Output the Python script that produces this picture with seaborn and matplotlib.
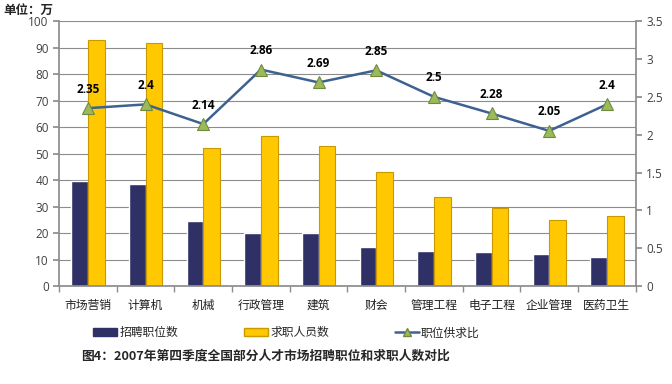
import numpy as np
import pandas as pd
import seaborn as sns
import matplotlib.pyplot as plt
from matplotlib.patches import Patch
from matplotlib.lines import Line2D

categories = ['市场营销', '计算机', '机械', '行政管理', '建筑', '财会', '管理工程', '电子工程', '企业管理', '医药卫生']
jobs = [39.7, 38.5, 24.4, 19.9, 19.9, 14.8, 13.3, 12.9, 12.1, 10.9]
seekers = [92.8, 91.8, 52.2, 56.6, 52.8, 42.9, 33.5, 29.5, 25.0, 26.5]
ratio = [2.35, 2.4, 2.14, 2.86, 2.69, 2.85, 2.5, 2.28, 2.05, 2.4]
series_names = ['招聘职位数', '求职人员数', '职位供求比']

sns.set_theme(style='white')
plt.rcParams['font.family'] = ['Noto Sans CJK SC', 'DejaVu Sans']

navy = '#2F3166'
yellow = '#FFC800'
line_c = '#3D6292'
tri_c = '#9BBB59'

df = pd.DataFrame({
    'cat': categories * 2,
    'val': jobs + seekers,
    'series': [series_names[0]] * len(categories) + [series_names[1]] * len(categories),
})

fig = plt.figure(figsize=(6.72, 3.84), dpi=100)
ax = fig.add_axes([0.088, 0.255, 0.858, 0.69])
sns.barplot(data=df, x='cat', y='val', hue='series', order=categories,
            palette=[navy, yellow], width=0.58, ax=ax, legend=False, saturation=1)
for bar in ax.patches[len(categories):]:
    bar.set_edgecolor('#C89A00')
    bar.set_linewidth(0.8)

ax.set_ylim(0, 100)
ax.set_yticks(np.arange(0, 101, 10))
ax.set_xlim(-0.5, len(categories) - 0.5)
ax.set_xlabel('')
ax.set_ylabel('')
ax.yaxis.grid(True, color='#8C8C8C', linewidth=0.8)
ax.set_axisbelow(True)
for s in ['top', 'right']:
    ax.spines[s].set_visible(False)
for s in ['left', 'bottom']:
    ax.spines[s].set_color('#8C8C8C')
ax.tick_params(axis='y', labelsize=8.5, colors='#404040', length=4, color='#8C8C8C',
               left=True, direction='out')
ax.tick_params(axis='x', labelsize=8.5, colors='#202020', length=0, pad=9)
ax.set_xticks(np.arange(-0.5, len(categories), 1), minor=True)
ax.tick_params(axis='x', which='minor', length=4, color='#8C8C8C', bottom=True)
for t in ax.get_yticklabels():
    t.set_family(['Open Sans', 'DejaVu Sans'])

ax2 = ax.twinx()
x = np.arange(len(categories))
ax2.plot(x, ratio, color=line_c, linewidth=1.8, marker='^', markersize=8,
         markerfacecolor=tri_c, markeredgecolor='#71893F', markeredgewidth=0.8)
for xi, r in zip(x, ratio):
    ax2.annotate(f'{r:g}', (xi, r), xytext=(0, 9), textcoords='offset points',
                 ha='center', va='bottom', fontsize=8.5, fontweight='bold',
                 family=['Open Sans', 'DejaVu Sans'], color='black')
ax2.set_ylim(0, 3.5)
ax2.set_yticks(np.arange(0, 3.51, 0.5))
ax2.set_yticklabels([f'{v:g}' for v in np.arange(0, 3.51, 0.5)],
                    family=['Open Sans', 'DejaVu Sans'])
ax2.tick_params(axis='y', labelsize=8.5, colors='#404040', length=4, color='#8C8C8C', direction='out')
ax2.grid(False)
for s in ['top', 'left', 'bottom']:
    ax2.spines[s].set_visible(False)
ax2.spines['right'].set_color('#8C8C8C')

fig.text(0.005, 0.972, '单位：万', fontsize=9, fontweight='bold', ha='left', va='center')

handles = [Patch(facecolor=navy, edgecolor=navy),
           Patch(facecolor=yellow, edgecolor='#C89A00'),
           Line2D([0], [0], color=line_c, linewidth=1.8, marker='^', markersize=6,
                  markerfacecolor=tri_c, markeredgecolor='#71893F')]
fig.legend(handles, series_names, loc='center left', bbox_to_anchor=(0.13, 0.133),
           ncol=3, frameon=False, fontsize=8.5, handlelength=2.0, handleheight=0.7,
           handletextpad=0.2, columnspacing=5.6, borderpad=0)

fig.text(0.395, 0.072, '图4：2007年第四季度全国部分人才市场招聘职位和求职人数对比',
         fontsize=9.2, fontweight='bold', ha='center', va='center')

fig.savefig('out.png', dpi=100)
